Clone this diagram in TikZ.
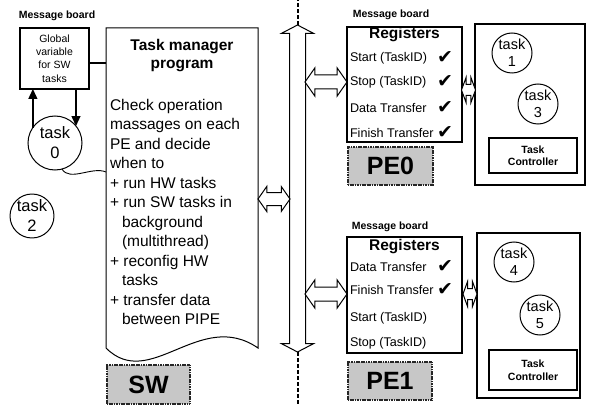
\documentclass[tikz,border=0pt]{standalone}
\usepackage{fontspec}
\setmainfont{Liberation Sans}
\newfontfamily\symfont{DejaVu Sans}
\usetikzlibrary{shapes.arrows,arrows.meta}
\begin{document}
\begin{tikzpicture}[x=1pt,y=-1pt,
  every node/.style={inner sep=0pt, outer sep=0pt},
  mblabel/.style={font=\bfseries\fontsize{10.5}{12}\selectfont},
  regbox/.style={draw, line width=1.4pt, minimum width=115pt},
  regtitle/.style={font=\bfseries\fontsize{15.5}{17}\selectfont},
  regrow/.style={anchor=west, font=\fontsize{12.6}{14}\selectfont},
  chk/.style={font=\symfont\fontsize{19}{20}\selectfont},
  graybox/.style={draw=black!85, fill=black!22, line width=1.2pt, dash pattern=on 1.2pt off 0.5pt, font=\bfseries\fontsize{25}{28}\selectfont},
  taskbox/.style={draw, line width=1.4pt},
  tcbox/.style={draw, line width=1.3pt, minimum width=88pt, align=center, font=\bfseries\fontsize{10.5}{12.5}\selectfont},
  smalltask/.style={draw, circle, line width=1pt, minimum size=40pt, align=center, font=\fontsize{14.5}{17}\selectfont},
  bigtask/.style={draw, circle, line width=1pt, align=center, font=\fontsize{16.5}{20}\selectfont},
  hollow/.style={draw, double arrow, line width=1pt, fill=white, minimum width=0pt},
  conn/.style={line width=1.3pt, -{Triangle[length=10pt,width=9pt]}},
  busdash/.style={line width=2pt, dash pattern=on 4pt off 2pt}
]
\useasboundingbox (0,0) rectangle (591,406);

% ---------------- left: SW side ----------------
\node[mblabel] (mbl) at (57,16) {Message board};
\node[draw, line width=1.4pt, minimum width=69pt, minimum height=61pt, align=center,
      font=\fontsize{10.5}{13.3}\selectfont] (gv) at (54.5,58.5) {Global\\variable\\for SW\\tasks};

\node[bigtask, minimum size=54pt] (t0) at (55,143) {task\\0};
\node[bigtask, minimum size=40pt] (t2) at (32,216) {task\\2};

\draw[conn] (t0.145) -- (t0.145 |- gv.south);
\draw[conn] (t0.39 |- gv.south) -- (t0.39);

% task manager document shape
\coordinate (tmtl) at (106,28);
\coordinate (tmtr) at (258,28);
\coordinate (tmbr) at (258,348);
\coordinate (tmbl) at (106,348);
\draw[line width=1pt] (tmtl) -- (tmtr) -- (tmbr) .. controls (200,308) and (150,392) .. (tmbl) -- cycle;
\coordinate (tmleft) at (106,63);
\coordinate (tmwave) at (106,172);
\draw[line width=1.2pt] (gv.east |- tmleft) -- (tmleft);
\draw[line width=0.9pt] (t0.-75) .. controls (70,182) and (92,166) .. (tmwave);

\node[font=\bfseries\fontsize{15.5}{18}\selectfont, align=center] (tmtitle) at (182,56) {Task manager\\program};
\node[anchor=north west, align=left, font=\fontsize{15.5}{19.5}\selectfont] (tmbody) at (110,99)
 {Check operation\\
  massages on each\\
  PE and decide\\
  when to\\
  + run HW tasks\\
  + run SW tasks in\\
  \hspace*{12pt}background\\
  \hspace*{12pt}(multithread)\\
  + reconfig HW\\
  \hspace*{12pt}tasks\\
  + transfer data\\
  \hspace*{12pt}between PIPE};

\node[graybox, minimum width=83pt, minimum height=39pt] (sw) at (148.5,384.5) {SW};

% ---------------- bus ----------------
\node[hollow, rotate=90, minimum height=327pt, inner ysep=7.5pt,
      double arrow head extend=8pt, double arrow tip angle=125] (bus) at (297.5,188.5) {};
\coordinate (bustop) at (297.5,0);
\coordinate (busbot) at (297.5,406);
\draw[busdash] (bus.east) -- (bustop);
\draw[busdash] (bus.west) -- (busbot);

\node[hollow, minimum height=32pt, inner ysep=6pt, double arrow head extend=6pt, double arrow tip angle=110] (am) at (274,199) {};

% ---------------- PE0 ----------------
\node[mblabel] (mb0) at (391,15) {Message board};
\node[regbox, minimum height=115pt] (r0) at (404.5,84.5) {};
\node[regtitle] (r0t) at (404.5,35) {Registers};
\node[regrow] (r0a) at (350,58) {Start (TaskID)};
\node[regrow] (r0b) at (350,82) {Stop (TaskID)};
\node[regrow] (r0c) at (350,108) {Data Transfer};
\node[regrow] (r0d) at (350,133) {Finish Transfer};
\node[chk] (c0a) at (445,58) {✔};
\node[chk] (c0b) at (445,82) {✔};
\node[chk] (c0c) at (445,108) {✔};
\node[chk] (c0d) at (445,133) {✔};
\node[graybox, minimum width=85pt, minimum height=38pt] (pe0) at (390.5,166) {PE0};

\node[hollow, minimum height=42pt, inner ysep=6.5pt, double arrow head extend=7pt, double arrow tip angle=110] (a0) at (326,82) {};

\node[taskbox, minimum width=110pt, minimum height=161pt] (tb0) at (530,104.5) {};
\node[hollow, minimum height=14pt, inner ysep=5pt, double arrow head extend=7pt, double arrow tip angle=140] (s0) at (468.5,90) {};
\node[smalltask] (t1) at (512,53) {task\\1};
\node[smalltask] (t3) at (538,104) {task\\3};
\node[tcbox, minimum height=35pt] (tc0) at (533,155.5) {Task\\Controller};

% ---------------- PE1 ----------------
\node[mblabel] (mb1) at (390,227) {Message board};
\node[regbox, minimum height=116pt] (r1) at (404.5,295) {};
\node[regtitle] (r1t) at (404.5,247) {Registers};
\node[regrow] (r1a) at (350,267) {Data Transfer};
\node[regrow] (r1b) at (350,290) {Finish Transfer};
\node[regrow] (r1c) at (350,318) {Start (TaskID)};
\node[regrow] (r1d) at (350,343) {Stop (TaskID)};
\node[chk] (c1a) at (445,267) {✔};
\node[chk] (c1b) at (445,290) {✔};
\node[graybox, minimum width=84pt, minimum height=38pt] (pe1) at (390,381) {PE1};

\node[hollow, minimum height=42pt, inner ysep=6.5pt, double arrow head extend=7pt, double arrow tip angle=110] (a1) at (326,294) {};

\node[taskbox, minimum width=103pt, minimum height=165pt] (tb1) at (528.5,315.5) {};
\node[hollow, minimum height=14pt, inner ysep=5pt, double arrow head extend=7pt, double arrow tip angle=140] (s1) at (470,294) {};
\node[smalltask] (t4) at (514,262) {task\\4};
\node[smalltask] (t5) at (540,315) {task\\5};
\node[tcbox, minimum height=40pt] (tc1) at (533,370) {Task\\Controller};

\end{tikzpicture}
\end{document}
